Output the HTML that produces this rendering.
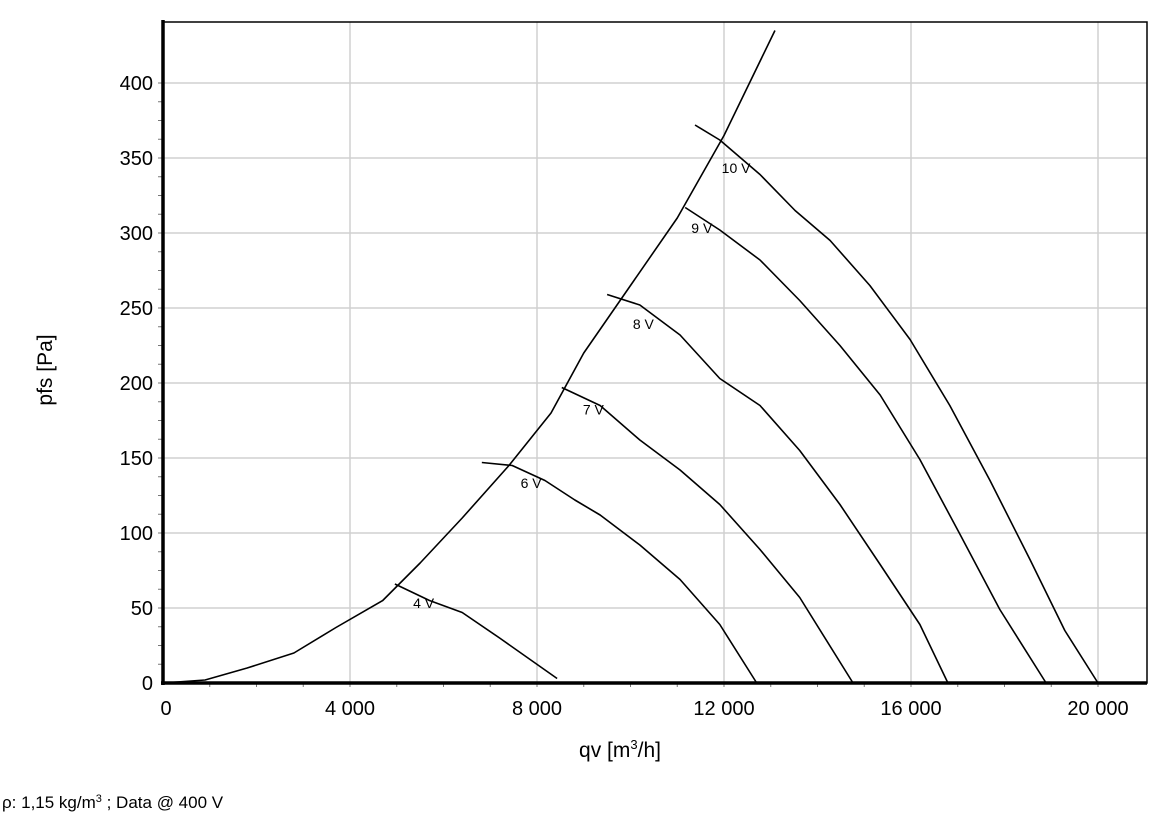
<!DOCTYPE html>
<html><head><meta charset="utf-8"><style>
body{margin:0;background:#fff;width:1165px;height:821px;overflow:hidden;font-family:"Liberation Sans",sans-serif}
</style></head><body>
<svg id="chart" width="1165" height="821" xmlns="http://www.w3.org/2000/svg" font-family="Liberation Sans, sans-serif">
<g id="grid"></g>
<g id="curves" fill="none" stroke="#000" stroke-width="1.6" stroke-linejoin="round"></g>
<g id="axes"></g>
<text x="52" y="370" font-size="21" text-anchor="middle" transform="rotate(-90 52 370)">pfs [Pa]</text>
<text x="620" y="757" font-size="21" text-anchor="middle">qv [m<tspan font-size="13" dy="-8">3</tspan><tspan dy="8">/h]</tspan></text>
<text x="2" y="808" font-size="17">ρ: 1,15 kg/m<tspan font-size="11" dy="-6">3</tspan><tspan dy="6"> ; Data @ 400 V</tspan></text>
</svg>
<script>
const xTicks=[0,4000,8000,12000,16000,20000];
const xTickLabels=["0","4 000","8 000","12 000","16 000","20 000"];
const yTicks=[0,50,100,150,200,250,300,350,400];
const systemQ=[0,900,1800,2800,3700,4700,5500,6400,7400,8300,9000,10000,11000,12000,13090];
const systemP=[0,2,10,20,37,55,80,110,145,180,220,265,310,365,435];
const c4Q=[4960,5700,6400,7200,8430];
const c4P=[66,55,47,30,3];
const c6Q=[6820,7470,8170,8810,9350,10200,11060,11910,12700];
const c6P=[147,145,135,122,112,92,69,39,0];
const c7Q=[8530,9350,10200,11060,11910,12770,13620,14760];
const c7P=[197,185,162,142,119,89,57,0];
const c8Q=[9500,10200,11060,11910,12770,13620,14480,15340,16190,16790];
const c8P=[259,252,232,203,185,155,119,79,39,0];
const c9Q=[11170,11910,12770,13620,14480,15340,16190,17050,17900,18890];
const c9P=[317,302,282,255,225,192,149,99,49,0];
const c10Q=[11380,11910,12770,13520,14270,15120,15980,16830,17690,18550,19290,20000];
const c10P=[372,362,339,315,295,265,229,185,135,82,35,0];
const labelText=["4 V","6 V","7 V","8 V","9 V","10 V"];
const labelQ=[5350,7650,8980,10050,11300,11950];
const labelP=[50,130,179,236,300,340];

const X=q=>163+q*0.04675, Y=p=>683-p*1.5;
const NS="http://www.w3.org/2000/svg";
function mk(t,parent,attrs){const e=document.createElementNS(NS,t);for(const k in attrs)e.setAttribute(k,attrs[k]);parent.appendChild(e);return e;}
const grid=document.getElementById('grid'),axes=document.getElementById('axes'),curves=document.getElementById('curves');
const L=163,R=1147,T=22,B=683;
xTicks.forEach((q,i)=>{
 if(q>0){const g=mk('line',grid,{x1:X(q),x2:X(q),y1:T,y2:B,stroke:'#d0d0d0','stroke-width':1.5});
 
 }
 const t=mk('text',axes,{x:X(q)+(i==0?3:0),y:B+32,'font-size':20,'text-anchor':'middle'});t.textContent=xTickLabels[i];
 
 
});
for(let q=1000;q<21000;q+=1000){const m=mk('line',axes,{x1:X(q),x2:X(q),y1:B,y2:B+4,stroke:'#777','stroke-width':1});
 
 }
yTicks.forEach(p=>{
 if(p>0){const g=mk('line',grid,{x1:L,x2:R,y1:Y(p),y2:Y(p),stroke:'#d0d0d0','stroke-width':1.5});
 
 }
 const t=mk('text',axes,{x:L-10,y:Y(p)+7,'font-size':20,'text-anchor':'end'});t.textContent=p;
 
 
});
for(let p=12.5;p<410;p+=12.5){const m=mk('line',axes,{x1:L-5,x2:L,y1:Y(p),y2:Y(p),stroke:'#777','stroke-width':1});
 
 }
const fr=mk('rect',axes,{x:L,y:T,width:R-L,height:B-T,fill:'none',stroke:'#000','stroke-width':1.5});


const ya=mk('line',axes,{x1:L,x2:L,y1:T-2,y2:B+2,stroke:'#000','stroke-width':3.5});


const xa=mk('line',axes,{x1:L-2,x2:R,y1:B,y2:B,stroke:'#000','stroke-width':3.5});


const series=[[systemQ,systemP,'system-curve'],[c4Q,c4P,'curve-4v'],[c6Q,c6P,'curve-6v'],[c7Q,c7P,'curve-7v'],[c8Q,c8P,'curve-8v'],[c9Q,c9P,'curve-9v'],[c10Q,c10P,'curve-10v']];
series.forEach(([qs,ps,n])=>{
 const pl=mk('polyline',curves,{points:qs.map((q,i)=>X(q)+','+Y(ps[i])).join(' ')});
 
 
});
labelText.forEach((s,i)=>{
 const t=mk('text',axes,{x:X(labelQ[i]),y:Y(labelP[i]),'font-size':14});t.textContent=s;
 
 
});
</script>
</body></html>
